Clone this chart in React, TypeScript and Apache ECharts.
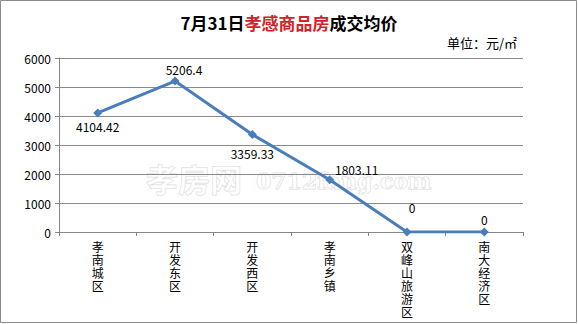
import React, { useEffect, useRef } from "react";
import * as echarts from "echarts";

const categories = ["孝南城区", "开发东区", "开发西区", "孝南乡镇", "双峰山旅游区", "南大经济区"];
const prices = [4104.42, 5206.4, 3359.33, 1803.11, 0, 0];
const yTicks = [0, 1000, 2000, 3000, 4000, 5000, 6000];
const labelOffsets: [number, number][] = [[0, -3], [9, 5], [0, 2], [27, 6], [5, -8], [0, 4]];
const labelPositions = ["bottom", "top", "bottom", "top", "top", "top"];

export default function App() {
  const ref = useRef<HTMLDivElement>(null);
  useEffect(() => {
    const chart = echarts.init(ref.current!, undefined, { renderer: "svg" });
    const font = "'Microsoft YaHei', 'Noto Sans CJK SC', sans-serif";
    chart.setOption({
      animation: false,
      backgroundColor: "#ffffff",
      textStyle: { fontFamily: font },
      title: {
        text: "{b|7月31日}{r|孝感商品房}{b|成交均价}",
        left: "center",
        top: 9,
        textStyle: {
          rich: {
            b: { fontSize: 17, fontWeight: "bold", color: "#000", fontFamily: font },
            r: { fontSize: 17, fontWeight: "bold", color: "#d2232a", fontFamily: font },
          },
        },
      },
      graphic: [
        {
          type: "rect",
          shape: { x: 0.5, y: 0.5, width: 576, height: 322 },
          style: { fill: "none", stroke: "#8c8c8c", lineWidth: 1 },
          silent: true,
        },
        {
          type: "text",
          x: 447,
          y: 36,
          style: { text: "单位：元/㎡", fontSize: 13, fill: "#000", fontFamily: font },
        },
        {
          type: "text",
          x: 146,
          y: 162,
          z: -1,
          style: {
            text: "孝房网",
            fontSize: 32,
            fontWeight: "bold",
            fill: "rgba(255,255,255,0.6)",
            stroke: "rgba(160,160,160,0.4)",
            lineWidth: 1,
            fontFamily: font,
          },
        },
        {
          type: "text",
          x: 256,
          y: 170,
          z: -1,
          style: {
            text: "0712fang.com",
            fontSize: 22,
            fontWeight: "bold",
            fill: "rgba(255,255,255,0.6)",
            stroke: "rgba(160,160,160,0.4)",
            lineWidth: 1,
            fontFamily: "'DejaVu Serif', serif",
          },
        },
      ],
      grid: { left: 59, right: 55, top: 58, bottom: 92, containLabel: false, outerBoundsMode: "none" },
      xAxis: {
        type: "category",
        data: categories,
        boundaryGap: true,
        axisLine: { lineStyle: { color: "#868686", width: 1 } },
        axisTick: { show: true, alignWithLabel: false, length: 4, lineStyle: { color: "#868686" } },
        axisLabel: {
          interval: 0,
          margin: 8,
          fontSize: 12,
          lineHeight: 13,
          color: "#000",
          verticalAlign: "top",
          formatter: (v: string) => v.split("").join("\n"),
        },
      },
      yAxis: {
        type: "value",
        min: 0,
        max: 6000,
        interval: 1000,
        axisLine: { show: true, lineStyle: { color: "#868686" } },
        axisTick: { show: true, length: 4, lineStyle: { color: "#868686" } },
        axisLabel: {
          fontSize: 12,
          color: "#000",
          margin: 8,
          formatter: (v: number) => (yTicks.includes(v) ? String(v) : ""),
        },
        splitLine: { show: true, lineStyle: { color: "#8a8a8a", width: 1 } },
      },
      series: [
        {
          type: "line",
          z: 3,
          data: prices.map((v, i) => ({
            value: v,
            label: {
              show: true,
              position: labelPositions[i],
              offset: labelOffsets[i],
            },
          })),
          symbol: "diamond",
          symbolSize: 9,
          lineStyle: { color: "#4a7ebb", width: 3 },
          itemStyle: { color: "#4a7ebb" },
          label: { show: true, fontSize: 12, color: "#000", distance: 6 },
        },
      ],
    });
    return () => chart.dispose();
  }, []);
  return <div ref={ref} style={{ position: "absolute", left: 0, top: 0, width: 578, height: 324 }} />;
}
